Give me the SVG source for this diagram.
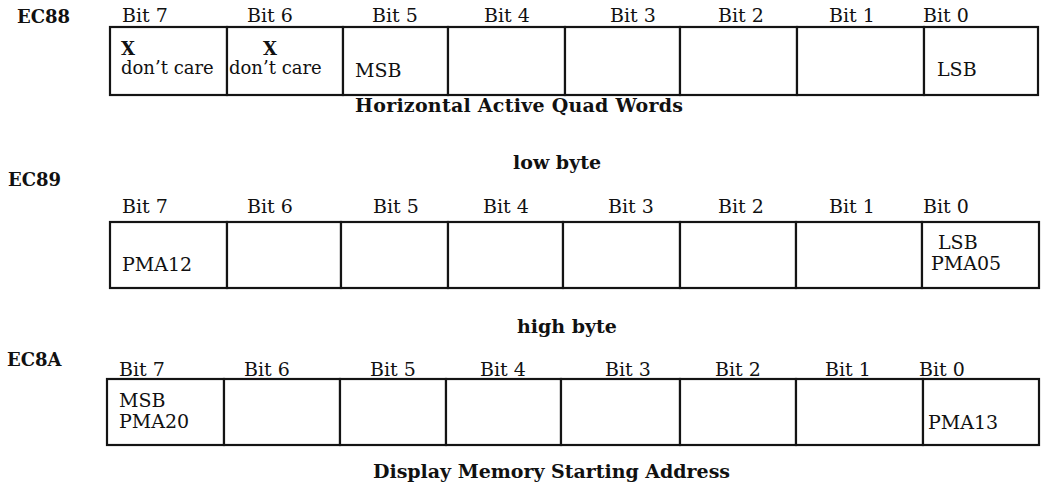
<svg xmlns="http://www.w3.org/2000/svg" width="1041" height="488" viewBox="0 0 1041 488">
<style>
text{font-family:"DejaVu Serif","Liberation Serif",serif;fill:#111;font-size:19px}
.b{font-weight:bold}
.reg{font-size:18px}
.cell{fill:#fff;stroke:#141414;stroke-width:2.2}
</style>
<rect width="1041" height="488" fill="#fff"/>
<g id="ec88">
<text class="b reg" x="17" y="23">EC88</text>
<g>
<text x="122" y="22">Bit 7</text><text x="247" y="22">Bit 6</text><text x="372" y="22">Bit 5</text><text x="484" y="22">Bit 4</text><text x="610" y="22">Bit 3</text><text x="718" y="22">Bit 2</text><text x="829" y="22">Bit 1</text><text x="923" y="22">Bit 0</text>
</g>
<g id="ec88-b7"><rect class="cell" x="110" y="27" width="117" height="68"/><text class="b reg" x="121" y="55">X</text><text class="reg" x="121" y="74">don’t care</text></g>
<g id="ec88-b6"><rect class="cell" x="227" y="27" width="116" height="68"/><text class="b reg" x="263" y="55">X</text><text class="reg" x="229" y="74">don’t care</text></g>
<g id="ec88-b5"><rect class="cell" x="343" y="27" width="105" height="68"/><text x="355" y="77">MSB</text></g>
<g id="ec88-b4"><rect class="cell" x="448" y="27" width="117" height="68"/></g>
<g id="ec88-b3"><rect class="cell" x="565" y="27" width="115" height="68"/></g>
<g id="ec88-b2"><rect class="cell" x="680" y="27" width="117" height="68"/></g>
<g id="ec88-b1"><rect class="cell" x="797" y="27" width="127" height="68"/></g>
<g id="ec88-b0"><rect class="cell" x="924" y="27" width="114" height="68"/><text x="937" y="76">LSB</text></g>
<text class="b" x="355" y="112" textLength="328">Horizontal Active Quad Words</text>
</g>
<g id="ec89">
<text class="b reg" x="8" y="186">EC89</text>
<text class="b" x="513" y="169">low byte</text>
<g>
<text x="122" y="213">Bit 7</text><text x="247" y="213">Bit 6</text><text x="373" y="213">Bit 5</text><text x="483" y="213">Bit 4</text><text x="608" y="213">Bit 3</text><text x="718" y="213">Bit 2</text><text x="829" y="213">Bit 1</text><text x="923" y="213">Bit 0</text>
</g>
<g id="ec89-b7"><rect class="cell" x="110" y="222" width="117" height="66"/><text x="122" y="271">PMA12</text></g>
<g id="ec89-b6"><rect class="cell" x="227" y="222" width="114" height="66"/></g>
<g id="ec89-b5"><rect class="cell" x="341" y="222" width="107" height="66"/></g>
<g id="ec89-b4"><rect class="cell" x="448" y="222" width="115" height="66"/></g>
<g id="ec89-b3"><rect class="cell" x="563" y="222" width="117" height="66"/></g>
<g id="ec89-b2"><rect class="cell" x="680" y="222" width="116" height="66"/></g>
<g id="ec89-b1"><rect class="cell" x="796" y="222" width="126" height="66"/></g>
<g id="ec89-b0"><rect class="cell" x="922" y="222" width="117" height="66"/><text x="938" y="249">LSB</text><text x="931" y="270">PMA05</text></g>
</g>
<g id="ec8a">
<text class="b reg" x="7" y="366">EC8A</text>
<text class="b" x="517" y="333">high byte</text>
<g>
<text x="119" y="376">Bit 7</text><text x="244" y="376">Bit 6</text><text x="370" y="376">Bit 5</text><text x="480" y="376">Bit 4</text><text x="605" y="376">Bit 3</text><text x="715" y="376">Bit 2</text><text x="825" y="376">Bit 1</text><text x="919" y="376">Bit 0</text>
</g>
<g id="ec8a-b7"><rect class="cell" x="107" y="379" width="117" height="66"/><text x="119" y="407">MSB</text><text x="119" y="428">PMA20</text></g>
<g id="ec8a-b6"><rect class="cell" x="224" y="379" width="116" height="66"/></g>
<g id="ec8a-b5"><rect class="cell" x="340" y="379" width="106" height="66"/></g>
<g id="ec8a-b4"><rect class="cell" x="446" y="379" width="115" height="66"/></g>
<g id="ec8a-b3"><rect class="cell" x="561" y="379" width="119" height="66"/></g>
<g id="ec8a-b2"><rect class="cell" x="680" y="379" width="116" height="66"/></g>
<g id="ec8a-b1"><rect class="cell" x="796" y="379" width="127" height="66"/></g>
<g id="ec8a-b0"><rect class="cell" x="923" y="379" width="116" height="66"/><text x="928" y="429">PMA13</text></g>
<text class="b" x="373" y="478" textLength="357">Display Memory Starting Address</text>
</g>
<g id="connectors"/>
</svg>
